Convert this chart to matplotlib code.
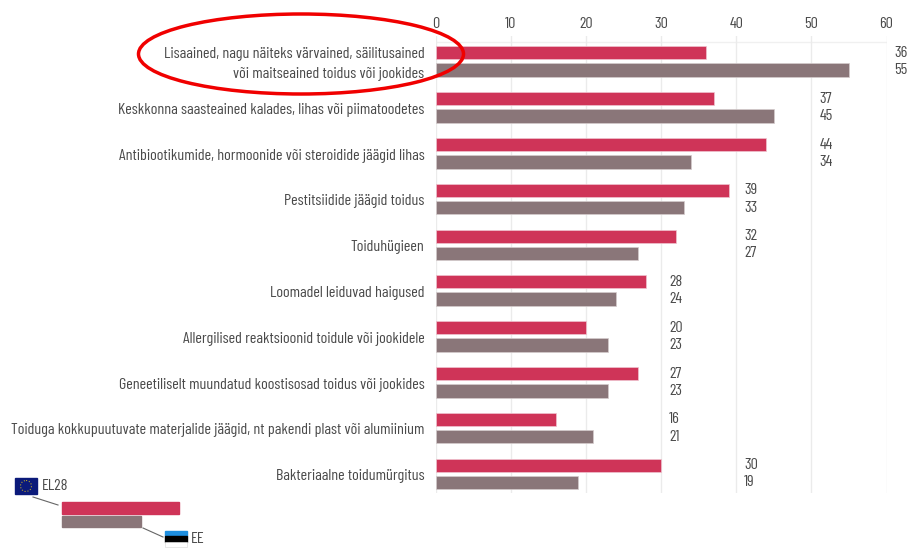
import matplotlib
matplotlib.use("Agg")
import matplotlib.pyplot as plt
from matplotlib.patches import Ellipse, Rectangle
from matplotlib.lines import Line2D

labels = [
    "Lisaained, nagu näiteks värvained, säilitusained\nvõi maitseained toidus või jookides",
    "Keskkonna saasteained kalades, lihas või piimatoodetes",
    "Antibiootikumide, hormoonide või steroidide jäägid lihas",
    "Pestitsiidide jäägid toidus",
    "Toiduhügieen",
    "Loomadel leiduvad haigused",
    "Allergilised reaktsioonid toidule või jookidele",
    "Geneetiliselt muundatud koostisosad toidus või jookides",
    "Toiduga kokkupuutuvate materjalide jäägid, nt pakendi plast või alumiinium",
    "Bakteriaalne toidumürgitus",
]
el28 = [36, 37, 44, 39, 32, 28, 20, 27, 16, 30]
ee = [55, 45, 34, 33, 27, 24, 23, 23, 21, 19]
ticks = [0, 10, 20, 30, 40, 50, 60]

RED = "#cf3458"
GREY = "#8a7679"
TXT = "#4a4a4a"
FAM = ["Barlow Condensed", "Open Sans"]
plt.rcParams["font.family"] = FAM

W, H = 909, 554
fig = plt.figure(figsize=(W / 100, H / 100), dpi=100)

# fit the label size to the width of the longest label
r = fig.canvas.get_renderer()
probe = fig.text(0, 0, labels[8], fontsize=10)
FS = 10 * 414 / probe.get_window_extent(r).width
probe.remove()

# axes box in pixels, one category = 45.8 px
x0, x1 = 435.5, 886.5
top, bottom = 36, 493
row = 45.8
ax = fig.add_axes([x0 / W, 1 - bottom / H, (x1 - x0) / W, (bottom - top) / H])
ax.set_xlim(0, 60)
ax.set_ylim((bottom - 42) / row, (top - 42) / row)

ypos = list(range(10))
ax.barh([y + 0.238 for y in ypos], el28, height=0.28, color=RED, ec="#f0c4cf", lw=0.5, zorder=3)
ax.barh([y + 0.615 for y in ypos], ee, height=0.295, color=GREY, ec="#d5cccd", lw=0.5, zorder=3)

ax.xaxis.tick_top()
ax.set_xticks(ticks)
ax.set_yticks([])
ax.tick_params(axis="x", length=0, pad=3.4, labelsize=FS, labelcolor=TXT)
ax.grid(axis="x", color="#ebebeb", lw=1, zorder=0)
ax.axhline(0, color="#f0f0f0", lw=1, zorder=0)
for s in ax.spines.values():
    s.set_visible(False)

# value labels sit just past the gridline after the longer bar
for i, (a, b) in enumerate(zip(el28, ee)):
    px = (max(a, b) // 10 + 1) * 10 + 8 / 7.52
    ax.text(px, i + 0.238, str(a), fontsize=FS, color=TXT, ha="left", va="center", clip_on=False)
    ax.text(px, i + 0.615, str(b), fontsize=FS, color=TXT, ha="left", va="center", clip_on=False)
    ax.text(-11 / (x1 - x0), i + 0.48, labels[i], transform=ax.get_yaxis_transform(), fontsize=FS,
            color=TXT, ha="right", va="center", linespacing=1.5)

# overlay in pixel coords
ov = fig.add_axes([0, 0, 1, 1], zorder=5)
ov.set_xlim(0, W)
ov.set_ylim(H, 0)
ov.axis("off")
ov.add_patch(Ellipse((301, 54), 325, 80, fill=False, ec="#f00000", lw=2.5))

# legend
ov.add_patch(Rectangle((62, 502), 117, 12, color=RED))
ov.add_patch(Rectangle((62, 515.5), 78.5, 11.5, color=GREY))
ov.add_patch(Rectangle((15, 478), 22, 16, color="#0b1a7a"))
ov.add_patch(Ellipse((26, 486), 11, 11, fill=False, ec="#b5a030", lw=0.8, ls=":"))
ov.add_patch(Rectangle((165, 531), 22, 5.3, color="#1e8fe0"))
ov.add_patch(Rectangle((165, 536.3), 22, 5.3, color="black"))
ov.add_patch(Rectangle((165, 541.6), 22, 5, fc="white", ec="#dddddd", lw=0.5))
ov.add_line(Line2D([33, 58], [497, 505], color="#666666", lw=0.8))
ov.add_line(Line2D([143, 163], [528, 537], color="#666666", lw=0.8))
ov.text(42, 486, "EL28", fontsize=FS, color=TXT, va="center")
ov.text(191, 539, "EE", fontsize=FS, color=TXT, va="center")

fig.savefig("out.png", dpi=100)
